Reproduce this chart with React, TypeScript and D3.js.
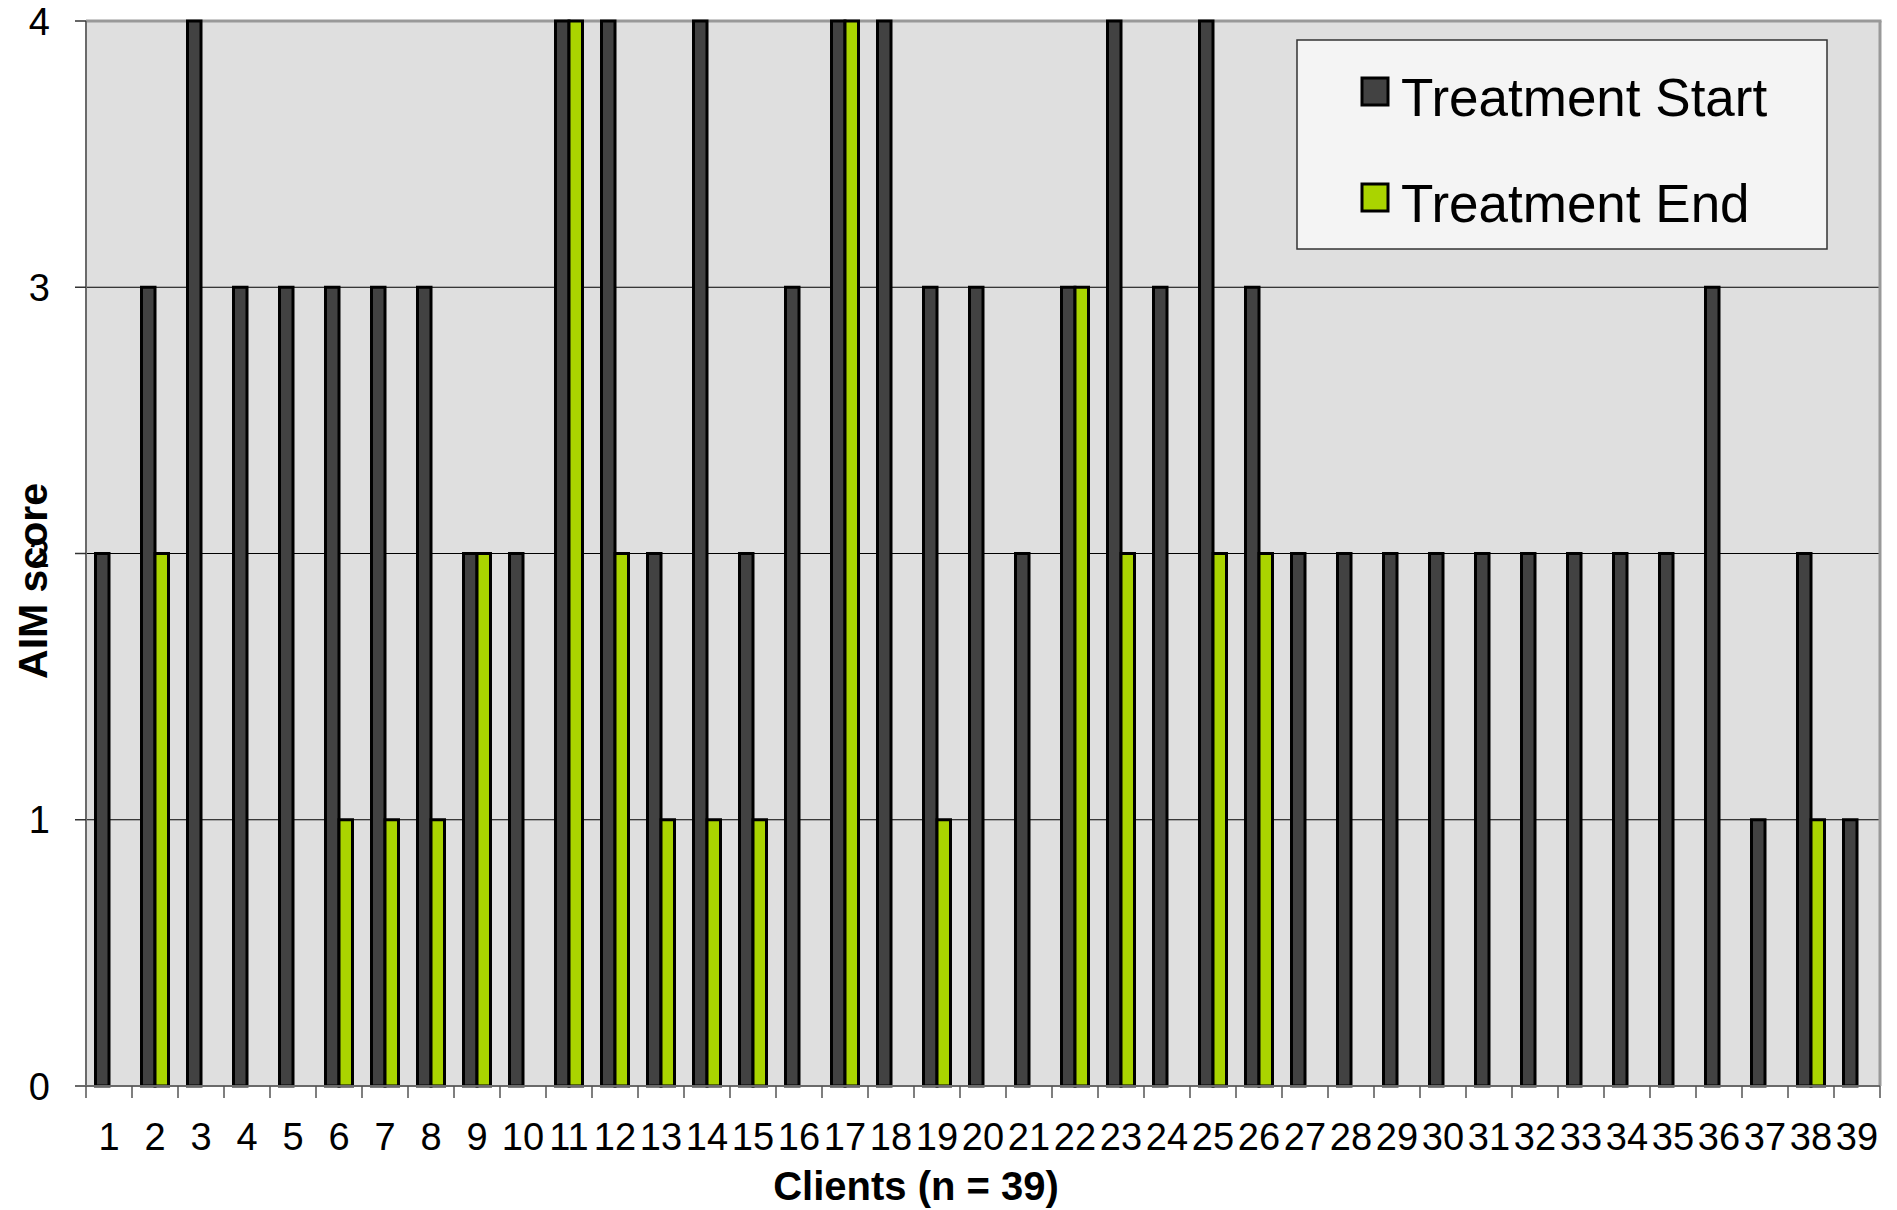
import React from "react";
import * as d3 from "d3";

// Client numbers along the x axis
const clients: string[] = Array.from({ length: 39 }, (_, i) => String(i + 1));

// AIM score per client at treatment start
const startScores: number[] = [
  2, 3, 4, 3, 3, 3, 3, 3, 2, 2,
  4, 4, 2, 4, 2, 3, 4, 4, 3, 3,
  2, 3, 4, 3, 4, 3, 2, 2, 2, 2,
  2, 2, 2, 2, 2, 3, 1, 2, 1,
];

// AIM score per client at treatment end
const endScores: number[] = [
  0, 2, 0, 0, 0, 1, 1, 1, 2, 0,
  4, 2, 1, 1, 1, 0, 4, 0, 1, 0,
  0, 3, 2, 0, 2, 2, 0, 0, 0, 0,
  0, 0, 0, 0, 0, 0, 0, 1, 0,
];

const yTicks: number[] = [0, 1, 2, 3, 4];
const seriesNames: string[] = ["Treatment Start", "Treatment End"];
const seriesColors: string[] = ["#424242", "#aad400"];

const W = 1897;
const H = 1210;
const plot = { left: 86, right: 1880, top: 21, bottom: 1086 };
const FONT = "'Liberation Sans', Arial, Helvetica, sans-serif";

export default function App() {
  const x = d3.scaleBand<string>().domain(clients).range([plot.left, plot.right]).padding(0);
  const y = d3.scaleLinear().domain([0, 4]).range([plot.bottom, plot.top]);
  const barW = 13.5;
  const sub = d3
    .scaleBand<string>()
    .domain(seriesNames)
    .range([-barW, barW])
    .padding(0);

  const series = [startScores, endScores];
  const boundaries = d3.range(clients.length + 1).map(
    (i) => plot.left + i * x.step()
  );

  return (
    <svg
      width={W}
      height={H}
      style={{ position: "absolute", left: 0, top: 0, background: "#fff" }}
      fontFamily={FONT}
    >
      {/* plot area */}
      <rect
        x={plot.left}
        y={plot.top}
        width={plot.right - plot.left}
        height={plot.bottom - plot.top}
        fill="#dfdfdf"
      />
      {/* gridlines */}
      {yTicks
        .filter((t) => t > 0 && t < 4)
        .map((t) => (
          <line
            key={"g" + t}
            x1={plot.left}
            x2={plot.right}
            y1={y(t)}
            y2={y(t)}
            stroke="#000"
            strokeWidth={1}
          />
        ))}
      {/* top and right frame */}
      <line x1={plot.left} x2={plot.right + 1.5} y1={plot.top} y2={plot.top} stroke="#999" strokeWidth={3} />
      <line x1={plot.right} x2={plot.right} y1={plot.top} y2={plot.bottom} stroke="#999" strokeWidth={3} />

      {/* bars */}
      {series.map((vals, si) =>
        vals.map((v, i) =>
          v > 0 ? (
            <rect
              key={`b${si}-${i}`}
              x={(x(clients[i]) as number) + x.bandwidth() / 2 + (sub(seriesNames[si]) as number)}
              y={y(v)}
              width={sub.bandwidth()}
              height={y(0) - y(v)}
              fill={seriesColors[si]}
              stroke="#000"
              strokeWidth={3}
            />
          ) : null
        )
      )}

      {/* y axis */}
      <line x1={plot.left} x2={plot.left} y1={plot.top} y2={plot.bottom} stroke="#6a6a6a" strokeWidth={2} />
      {yTicks.map((t) => (
        <g key={"y" + t}>
          <line x1={plot.left - 11} x2={plot.left} y1={y(t)} y2={y(t)} stroke="#333" strokeWidth={1.5} />
          <text
            x={50}
            y={y(t)}
            dy="0.36em"
            textAnchor="end"
            fontSize={38}
            fill="#000"
          >
            {t}
          </text>
        </g>
      ))}

      {/* x axis */}
      <line x1={plot.left - 11} x2={plot.right} y1={plot.bottom} y2={plot.bottom} stroke="#6a6a6a" strokeWidth={2} />
      {boundaries.map((bx, i) => (
        <line key={"xt" + i} x1={bx} x2={bx} y1={plot.bottom} y2={plot.bottom + 12} stroke="#555" strokeWidth={1.5} />
      ))}
      {clients.map((c) => (
        <text
          key={"xl" + c}
          x={(x(c) as number) + x.bandwidth() / 2}
          y={1150}
          textAnchor="middle"
          fontSize={38}
          fill="#000"
        >
          {c}
        </text>
      ))}

      {/* axis titles */}
      <text x={916} y={1200} textAnchor="middle" fontSize={40} fontWeight="bold" fill="#000">
        Clients (n = 39)
      </text>
      <text
        transform="translate(47,581) rotate(-90)"
        textAnchor="middle"
        fontSize={41}
        fontWeight="bold"
        fill="#000"
      >
        AIM score
      </text>

      {/* legend */}
      <rect x={1297} y={40} width={530} height={209} fill="#f4f4f4" stroke="#333" strokeWidth={1.5} />
      {seriesNames.map((name, i) => (
        <g key={"lg" + i}>
          <rect
            x={1362}
            y={78 + i * 106}
            width={26}
            height={27}
            fill={seriesColors[i]}
            stroke="#000"
            strokeWidth={3}
          />
          <text x={1401} y={116 + i * 106} fontSize={53} fill="#000">
            {name}
          </text>
        </g>
      ))}
    </svg>
  );
}
